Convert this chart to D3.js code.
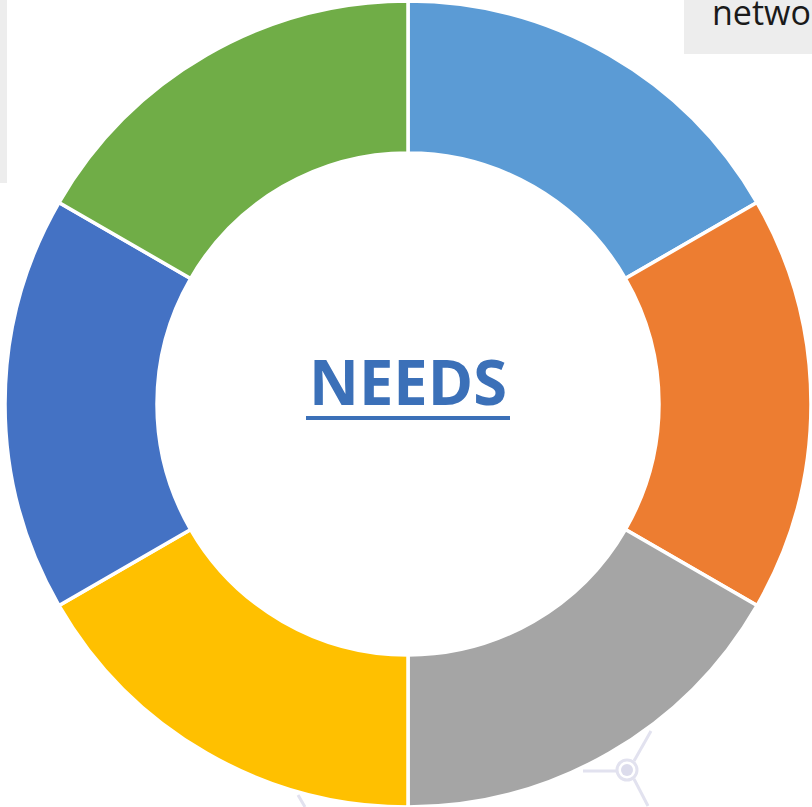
<!DOCTYPE html>
<html lang="en">
<head>
    <meta charset="UTF-8">
    <title>Needs</title>
    <style>
        body { margin: 0; background: #fff; }
        svg { display: block; }
    </style>
</head>
<body>
<svg height="807" width="812"></svg>

<script src="https://d3js.org/d3.v7.min.js"></script>
<script>

    var categories = ['Need 1', 'Need 2', 'Need 3', 'Need 4', 'Need 5', 'Need 6'];
    var values = [1, 1, 1, 1, 1, 1];
    var colours = ['#5B9BD5', '#ED7D31', '#A5A5A5', '#FFC000', '#4472C4', '#70AD47'];
    var centreLabel = 'NEEDS';

    var data = categories.map(function(c, i) { return {name: c, value: values[i]}; });

    var svg = d3.select("svg");
    var cx = 408, cy = 404;
    var outerR = 403, innerR = 251;

    // background boxes peeking in from the slide
    svg.append("rect").attr("x", 0).attr("y", 0).attr("width", 7).attr("height", 183).attr("fill", "#ededed");
    svg.append("rect").attr("x", 684).attr("y", 0).attr("width", 140).attr("height", 54).attr("fill", "#ededed");
    svg.append("text").attr("x", 712).attr("y", 25)
        .attr("font-family", "Open Sans, sans-serif").attr("font-size", 34).attr("fill", "#1a1a1a")
        .text("netwo");

    // faint network icon behind the ring
    var deco = svg.append("g").attr("stroke", "#e2e2ef").attr("stroke-width", 3).attr("fill", "none");
    deco.append("line").attr("x1", 583).attr("y1", 771).attr("x2", 617).attr("y2", 771);
    deco.append("line").attr("x1", 634).attr("y1", 761).attr("x2", 651).attr("y2", 731);
    deco.append("line").attr("x1", 634).attr("y1", 779).attr("x2", 648).attr("y2", 806);
    deco.append("line").attr("x1", 298).attr("y1", 795).attr("x2", 305).attr("y2", 807);
    deco.append("circle").attr("cx", 627).attr("cy", 770).attr("r", 10);
    svg.append("circle").attr("cx", 627).attr("cy", 770).attr("r", 6).attr("fill", "#dcdcec");

    var colour = d3.scaleOrdinal().domain(categories).range(colours);
    var pie = d3.pie().value(function(d) { return d.value; }).sort(null);
    var arc = d3.arc().innerRadius(innerR).outerRadius(outerR);

    var g = svg.append("g").attr("transform", "translate(" + cx + "," + cy + ")");
    g.selectAll("path")
        .data(pie(data))
        .enter()
        .append("path")
        .attr("d", arc)
        .attr("fill", function(d) { return colour(d.data.name); })
        .attr("stroke", "#fff")
        .attr("stroke-width", 3.5);

    g.append("text")
        .attr("x", 0).attr("y", 1)
        .attr("text-anchor", "middle")
        .attr("font-family", "Open Sans, sans-serif")
        .attr("font-weight", "bold")
        .attr("font-size", 63)
        .attr("fill", "#3B70B8")
        .attr("textLength", 198)
        .attr("lengthAdjust", "spacingAndGlyphs")
        .text(centreLabel);

    g.append("rect").attr("x", -102).attr("y", 12).attr("width", 204).attr("height", 4).attr("fill", "#3B70B8");

</script>
</body>
</html>
